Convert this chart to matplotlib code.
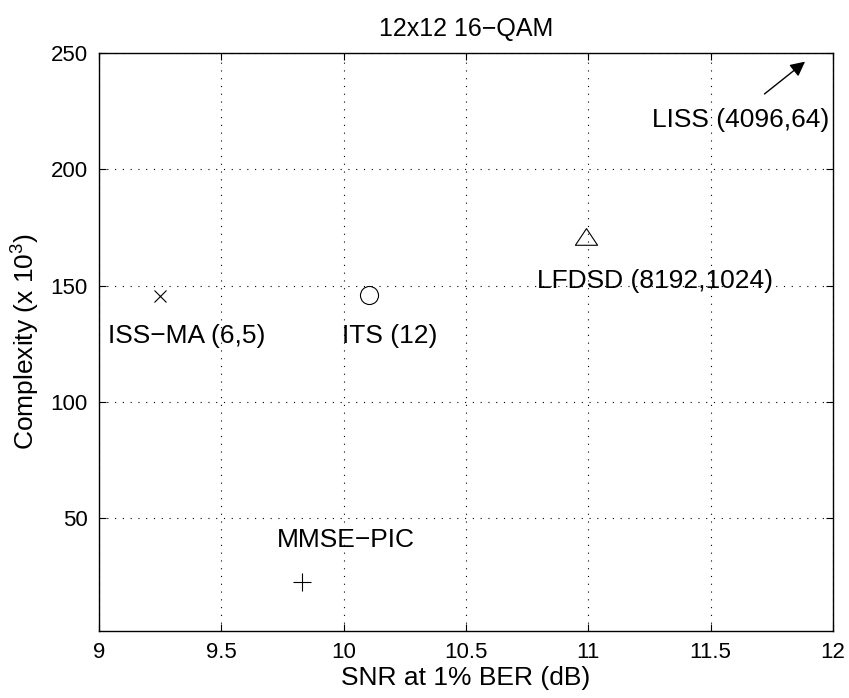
import matplotlib
matplotlib.use("Agg")
import matplotlib.pyplot as plt
from matplotlib.path import Path

plt.rcParams['font.family'] = ['Liberation Sans', 'DejaVu Sans']
plt.rcParams['mathtext.fontset'] = 'custom'
plt.rcParams['mathtext.rm'] = 'Liberation Sans'
plt.rcParams['mathtext.default'] = 'regular'

# detector results: SNR at 1% BER (dB) vs complexity (x 10^3)
names = ["ISS\u2212MA (6,5)", "ITS (12)", "MMSE\u2212PIC", "LFDSD (8192,1024)"]
snr = [9.25, 10.105, 9.83, 10.99]
complexity = [145.5, 145.8, 22.5, 171.0]
markers = ["x", "o", "+", "tri"]

# where each label sits (left edge, vertical centre)
label_x = [9.037, 9.993, 9.727, 10.79]
label_y = [128.2, 128.2, 40.7, 151.8]

# LISS lies off the chart -> arrow pointing out of the top-right corner
liss_label = "LISS (4096,64)"
liss_label_pos = (11.26, 221.0)
liss_arrow_tail = (11.72, 232.4)
liss_arrow_tip = (11.886, 246.3)

xticks = [9, 9.5, 10, 10.5, 11, 11.5, 12]
yticks = [50, 100, 150, 200, 250]

# flatter triangle like the matlab one
tri = Path([(-1, -0.7), (1, -0.7), (0, 0.8), (-1, -0.7)],
           [Path.MOVETO, Path.LINETO, Path.LINETO, Path.CLOSEPOLY])
sizes = {"x": 9, "o": 13, "+": 12.5, "tri": 16}

fig = plt.figure(figsize=(8.49, 6.98), dpi=100)
ax = fig.add_axes([0.1166, 0.096, 0.8645, 0.828])

for i in range(len(names)):
    m = markers[i]
    mk = tri if m == "tri" else m
    ax.plot(snr[i], complexity[i], linestyle='none', marker=mk,
            markersize=sizes[m], markerfacecolor='none',
            markeredgecolor='k', markeredgewidth=0.8)
    ax.text(label_x[i], label_y[i], names[i], fontsize=19,
            ha='left', va='center')

ax.text(liss_label_pos[0], liss_label_pos[1], liss_label, fontsize=19,
        ha='left', va='center')
ax.annotate("", xy=liss_arrow_tip, xytext=liss_arrow_tail,
            arrowprops=dict(arrowstyle='-|>', mutation_scale=22,
                            lw=1.0, color='k', shrinkA=0, shrinkB=0))

ax.set_xlim(9, 12)
ax.set_ylim(1.5, 250)
ax.set_xticks(xticks)
ax.set_xticklabels([f"{t:g}" for t in xticks])
ax.set_yticks(yticks)
ax.tick_params(direction='in', top=True, right=True, length=5,
               width=0.8, labelsize=16, pad=8)
ax.grid(True, color='k', linestyle=(0, (1, 6)), linewidth=0.8)
for s in ax.spines.values():
    s.set_linewidth(1.0)

ax.set_title("12x12 16\u2212QAM", fontsize=18, pad=12)
ax.set_xlabel("SNR at 1% BER (dB)", fontsize=19, labelpad=2)
ax.set_ylabel("Complexity (x 10$^3$)", fontsize=19, labelpad=6)

fig.savefig("out.png", dpi=100)
